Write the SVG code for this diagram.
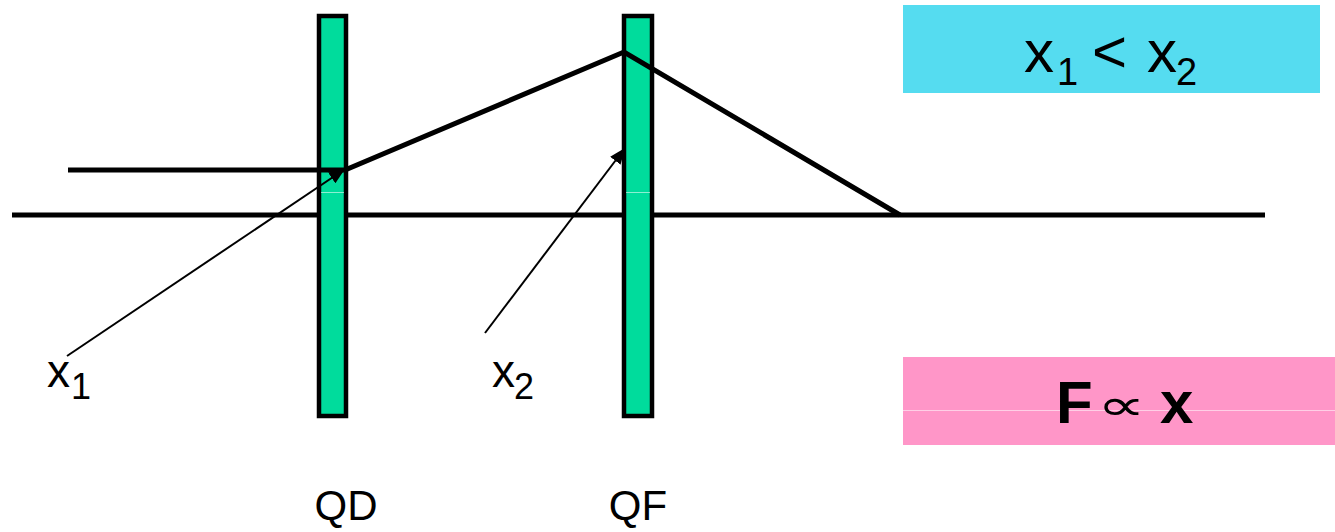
<svg xmlns="http://www.w3.org/2000/svg" width="1335" height="532" viewBox="0 0 1335 532">
<style>
.lens{fill:#00dc9c;stroke:#000;stroke-width:4.5}
.beam{fill:none;stroke:#000;stroke-width:5;stroke-linejoin:miter}
.thin{fill:none;stroke:#000;stroke-width:2}
.lbl{font-family:"Liberation Sans",Arial,sans-serif;font-size:46px;fill:#000}
.name{font-family:"Liberation Sans",Arial,sans-serif;font-size:42px;fill:#000}
.big{font-family:"Liberation Sans",Arial,sans-serif;font-size:60px;fill:#000}
.glint{fill:#fff;opacity:0.55}
</style>
<defs>
<marker id="ah" markerWidth="8" markerHeight="6.5" refX="8" refY="3.25" orient="auto" markerUnits="strokeWidth">
<path d="M0,0 L8,3.25 L0,6.5 Z" fill="#000"/>
</marker>
</defs>
<rect width="1335" height="532" fill="#fff"/>
<g id="axis"><line class="beam" x1="12" y1="215" x2="1265" y2="215"/></g>
<g id="QD"><rect class="lens" x="319" y="16" width="27" height="400"/>
<rect class="glint" x="321" y="192" width="23" height="1"/>
<text class="name" x="346" y="520" text-anchor="middle">QD</text></g>
<g id="QF"><rect class="lens" x="624" y="16" width="28" height="400"/>
<rect class="glint" x="626" y="192" width="24" height="1"/>
<text class="name" x="638" y="520" text-anchor="middle">QF</text></g>
<g id="connectors">
<polyline class="beam" points="68,170 345,170 624,52 900,215"/>
<line class="thin" x1="67" y1="356" x2="345" y2="169" marker-end="url(#ah)"/>
<line class="thin" x1="485" y1="333" x2="625" y2="148" marker-end="url(#ah)"/>
</g>
<g id="label-x1"><text class="lbl" x="47" y="387">x<tspan font-size="36" x="71" y="399">1</tspan></text></g>
<g id="label-x2"><text class="lbl" x="492" y="387">x<tspan font-size="36" x="514" y="399">2</tspan></text></g>
<g id="box-cmp"><rect x="903" y="5" width="417" height="88" fill="#55dcf0"/>
<text class="big" x="1024" y="72">x<tspan font-size="38" x="1057" y="85">1</tspan><tspan x="1092" y="72">&lt;</tspan><tspan x="1147" y="72">x</tspan><tspan font-size="38" x="1176" y="85">2</tspan></text></g>
<g id="box-force"><rect x="903" y="357" width="432" height="88" fill="#ff96c8"/>
<rect class="glint" x="903" y="410" width="432" height="1"/>
<text class="big" x="1056" y="423" font-size="57" font-weight="bold">F<tspan x="1160">x</tspan></text>
<text transform="translate(1097,420) scale(1.55,1)" x="0" y="0" font-family="DejaVu Sans,sans-serif" font-size="44" fill="#000">∝</text></g>
</svg>
